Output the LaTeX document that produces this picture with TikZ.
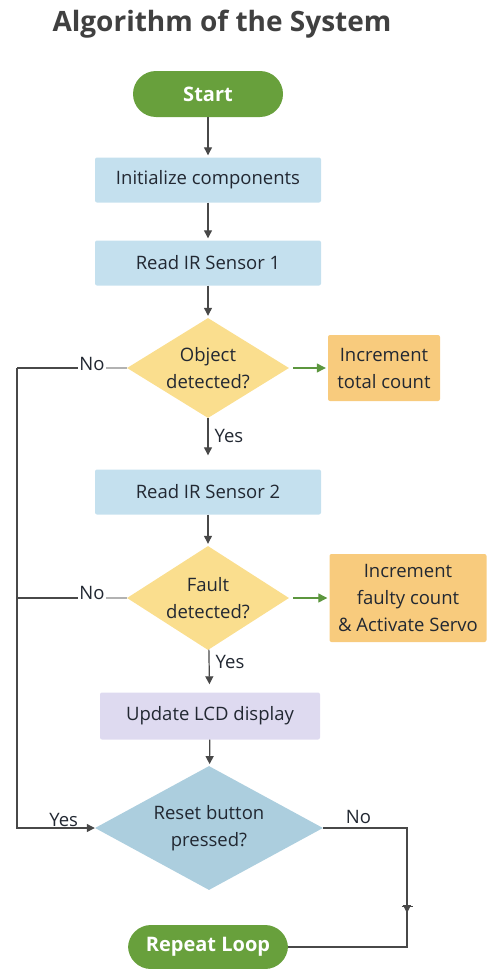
\documentclass[tikz,border=0pt]{standalone}
\usepackage{fontspec}
\setmainfont{Open Sans}
\usetikzlibrary{shapes.geometric,arrows.meta}
\definecolor{flgreen}{RGB}{104,160,60}
\definecolor{flblue}{RGB}{196,224,238}
\definecolor{flyellow}{RGB}{250,222,142}
\definecolor{florange}{RGB}{248,203,125}
\definecolor{fllilac}{RGB}{222,218,240}
\definecolor{flsteel}{RGB}{172,206,222}
\definecolor{flline}{RGB}{72,72,72}
\definecolor{fltext}{RGB}{34,40,50}
\definecolor{flarrgreen}{RGB}{92,150,62}

\tikzset{
  terminal/.style={rectangle, rounded corners=23pt, fill=flgreen, text=white,
    font=\fontsize{20}{24}\selectfont\bfseries, minimum height=46pt},
  procbox/.style={rectangle, rounded corners=2pt, fill=flblue, text=fltext,
    minimum width=226pt, minimum height=45pt},
  decision/.style={diamond, fill=flyellow, text=fltext, align=center, inner sep=0pt},
  actbox/.style={rectangle, rounded corners=2pt, fill=florange, text=fltext, align=center, inner sep=2pt},
  lbl/.style={text=fltext, inner sep=1pt},
  arr/.style={draw=flline, line width=1.2pt, -{Triangle[length=8pt,width=8pt]}},
  garr/.style={draw=flarrgreen, line width=1.2pt, -{Triangle[length=9pt,width=9pt]}},
  line/.style={draw=flline, line width=1.2pt}
}

\begin{document}
\begin{tikzpicture}[x=1pt, y=-1pt, font=\fontsize{18.5}{27}\selectfont]
\useasboundingbox (0,0) rectangle (487,969);

% Title
\node[text=black!75, font=\fontsize{28}{32}\selectfont\bfseries] (title) at (222,24) {Algorithm of the System};

% Main column
\node[terminal, minimum width=150pt] (start) at (208,94) {Start};
\node[procbox] (init) at (208,180) {Initialize components};
\node[procbox] (ir1) at (208,263) {Read IR Sensor 1};
\node[decision, aspect=1.62, minimum width=162pt, minimum height=100pt] (obj) at (208,368) {Object\\detected?};
\node[actbox, minimum width=112pt, minimum height=66pt] (inctot) at (384,368) {Increment\\total count};
\node[procbox] (ir2) at (208,492) {Read IR Sensor 2};
\node[decision, aspect=1.56, minimum width=162pt, minimum height=104pt] (fault) at (208,598) {Fault\\detected?};
\node[actbox, minimum width=157pt, minimum height=88pt] (incflt) at (408,598) {Increment\\faulty count\\\& Activate Servo};
\node[procbox, fill=fllilac, minimum width=220pt, minimum height=47pt] (lcd) at (210,716) {Update LCD display};
\node[decision, aspect=1.84, fill=flsteel, minimum width=228pt, minimum height=124pt] (reset) at (209,828) {Reset button\\pressed?};
\node[terminal, minimum width=160pt, minimum height=44pt] (repeat) at (208,947) {Repeat Loop};

% Helper points
\coordinate (bus) at (17,368);
\coordinate (rturn) at (407,828);
\coordinate (rbar) at (407,906);

% Straight flow
\draw[arr, shorten >=2pt] (start) -- (init);
\draw[arr, shorten >=2pt] (init) -- (ir1);
\draw[arr, shorten >=2pt] (ir1) -- (obj);
\draw[arr, shorten >=14pt] (obj) -- node[lbl, right=5pt, pos=0.35] {Yes} (ir2);
\draw[arr, shorten >=2pt] (ir2) -- (fault);
\draw[arr, shorten >=8pt] (fault) -- node[lbl, right=5pt, pos=0.3] {Yes} (lcd);
\draw[arr, shorten >=2pt] (lcd) -- (reset);

% Side actions
\draw[garr, shorten <=4pt, shorten >=2pt] (obj.east) -- (inctot.west);
\draw[garr, shorten <=4pt, shorten >=2pt] (fault.east) -- (incflt.west);

% No branches back to reset check
\draw[line, draw=black!30] (obj.west) -- (90,368);
\draw[line] (90,368) -- (bus);
\node[lbl, fill=white] (no1) at (92,364) {No};
\draw[line, draw=black!30] (fault.west) -- (90,598);
\draw[line] (90,598) -- (fault.west -| bus);
\node[lbl, fill=white] (no2) at (92,593) {No};
\draw[arr] (bus) |- node[lbl, above, pos=0.8] {Yes} (reset.west);

% Reset not pressed -> repeat
\draw[arr] (reset.east) -- node[lbl, above=3pt, pos=0.42] {No} (rturn) -- ([yshift=-7pt]rbar);
\draw[line, {Bar[width=11pt,line width=1.2pt]}-] (rbar) |- (repeat.east);
\end{tikzpicture}
\end{document}
